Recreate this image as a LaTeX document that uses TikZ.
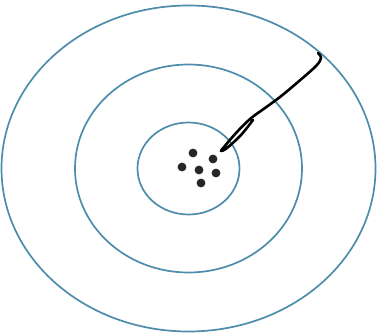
\documentclass[tikz,border=0pt]{standalone}
\definecolor{ring}{RGB}{78,140,172}
\begin{document}
\begin{tikzpicture}[x=1pt,y=-1pt,
  ringline/.style={draw=ring,line width=1.7pt},
  dot/.style={fill=black!85,draw=none},
  stroke/.style={draw=black,line width=2.6pt,line cap=round,line join=round}]
\useasboundingbox (0,0) rectangle (377,334);
\coordinate (c) at (188.5,168.5);
\draw[ringline] (c) ellipse [x radius=187, y radius=163];
\draw[ringline] (c) ellipse [x radius=113.5, y radius=104];
\draw[ringline] (c) ellipse [x radius=51, y radius=46];
\foreach \p in {(193,153),(213,159),(182,167),(199,170),(216,173),(201,183)}
  \fill[dot] \p circle (4.4);
\draw[stroke] plot[smooth,tension=0.55] coordinates {(318,53) (321,58) (316,66) (298,82) (280,97) (265,108) (250,119) (236,133) (224,147) (221,151) (227,148) (241,135) (253,120)};
\end{tikzpicture}
\end{document}
